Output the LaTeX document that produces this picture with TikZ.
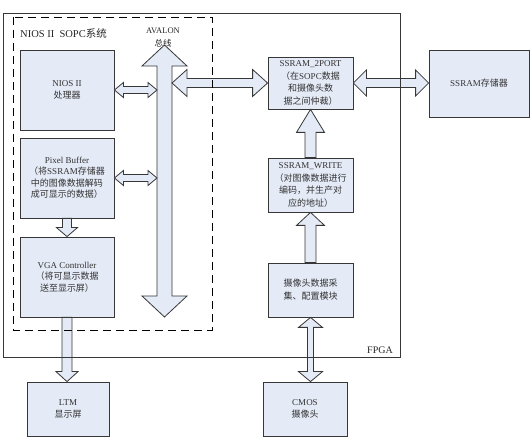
\documentclass[tikz,border=0pt]{standalone}
\usepackage{fontspec}
\setmainfont{Liberation Serif}
\newfontfamily\cjk{Noto Sans CJK SC}
\usepackage{tikz}
\usetikzlibrary{calc}
\usepackage{xcolor}

\definecolor{blockfill}{RGB}{228,234,246}
\definecolor{lineclr}{RGB}{55,55,55}

% block arrows: #1,#2 end points, #3 shaft half width, #4 head half width, #5 head length
\newcommand{\hboth}[5]{%
  \draw[barrow] let \p1=#1, \p2=#2 in
    (\x1,\y1) -- (\x1+#5,\y1+#4) -- (\x1+#5,\y1+#3) -- (\x2-#5,\y1+#3)
    -- (\x2-#5,\y1+#4) -- (\x2,\y1) -- (\x2-#5,\y1-#4) -- (\x2-#5,\y1-#3)
    -- (\x1+#5,\y1-#3) -- (\x1+#5,\y1-#4) -- cycle;}
\newcommand{\vboth}[5]{%
  \draw[barrow] let \p1=#1, \p2=#2 in
    (\x1,\y1) -- (\x1+#4,\y1-#5) -- (\x1+#3,\y1-#5) -- (\x1+#3,\y2+#5)
    -- (\x1+#4,\y2+#5) -- (\x1,\y2) -- (\x1-#4,\y2+#5) -- (\x1-#3,\y2+#5)
    -- (\x1-#3,\y1-#5) -- (\x1-#4,\y1-#5) -- cycle;}
\newcommand{\vup}[5]{% #1 tail, #2 tip (above)
  \draw[barrow] let \p1=#1, \p2=#2 in
    (\x2,\y2) -- (\x2+#4,\y2-#5) -- (\x2+#3,\y2-#5) -- (\x2+#3,\y1)
    -- (\x2-#3,\y1) -- (\x2-#3,\y2-#5) -- (\x2-#4,\y2-#5) -- cycle;}
\newcommand{\vdown}[5]{% #1 tail, #2 tip (below)
  \draw[barrow] let \p1=#1, \p2=#2 in
    (\x2,\y2) -- (\x2+#4,\y2+#5) -- (\x2+#3,\y2+#5) -- (\x2+#3,\y1)
    -- (\x2-#3,\y1) -- (\x2-#3,\y2+#5) -- (\x2-#4,\y2+#5) -- cycle;}

\begin{document}
\begin{tikzpicture}[x=1pt,y=-1pt,
    block/.style={draw=lineclr, line width=0.8pt, fill=blockfill, align=center,
      inner sep=1pt, text=black!80, font=\fontsize{9}{11.5}\selectfont},
    barrow/.style={draw=lineclr, line width=0.8pt, fill=blockfill, line join=miter},
    lbl/.style={inner sep=0pt, text=black!85}]
    \useasboundingbox (0,0) rectangle (531,443);

    % Blocks inside the SOPC system
    \node[block, minimum width=94pt, minimum height=80pt] (nios) at (67,90)
        {NIOS II\\{\cjk 处理器}};
    \node[block, minimum width=94pt, minimum height=80pt] (pixbuf) at (67,178)
        {Pixel Buffer\\{\cjk （将}SSRAM{\cjk 存储器}\\{\cjk 中的图像数据解码}\\{\cjk 成可显示的数据）}};
    \node[block, minimum width=94pt, minimum height=80pt] (vga) at (67,277)
        {VGA Controller\\{\cjk （将可显示数据}\\{\cjk 送至显示屏）}};

    % Blocks on the camera side
    \node[block, minimum width=85pt, minimum height=52pt, font=\fontsize{9}{12.5}\selectfont] (port2) at (310.5,83)
        {SSRAM\_2PORT\\{\cjk （在}SOPC{\cjk 数据}\\{\cjk 和摄像头数}\\{\cjk 据之间仲裁）}};
    \node[block, minimum width=100pt, minimum height=67pt] (sram) at (479,83.5)
        {SSRAM{\cjk 存储器}};
    \node[block, minimum width=85pt, minimum height=54pt, font=\fontsize{9}{12.5}\selectfont] (wr) at (310.5,185)
        {SSRAM\_WRITE\\{\cjk （对图像数据进行}\\{\cjk 编码，并生产对}\\{\cjk 应的地址）}};
    \node[block, minimum width=85pt, minimum height=54pt, font=\fontsize{9}{13}\selectfont] (cap) at (310.5,290)
        {\cjk 摄像头数据采\\\cjk 集、配置模块};

    % Outside devices
    \node[block, minimum width=82pt, minimum height=54pt] (ltm) at (68,409)
        {LTM\\{\cjk 显示屏}};
    \node[block, minimum width=84pt, minimum height=54pt] (cmos) at (305,409)
        {CMOS\\{\cjk 摄像头}};

    % Labels
    \node[lbl, anchor=west, font=\fontsize{10.5}{12}\selectfont] (soptitle) at (20,33) {NIOS II\ \ SOPC{\cjk 系统}};
    \node[lbl, font=\fontsize{8.5}{10}\selectfont] (avalon) at (163,31) {AVALON};
    \node[lbl, font=\fontsize{8.5}{10}\selectfont] (zongxian) at (163,43) {\cjk 总线};
    \node[lbl, anchor=east, font=\fontsize{10}{12}\selectfont] (fpgalbl) at (393,350) {FPGA};

    % AVALON bus
    \coordinate (bustop) at (164.5,45);
    \coordinate (busbot) at (164.5,317);
    \coordinate (busL) at (157,0);
    \coordinate (busR) at (172,0);
    \vboth{(bustop)}{(busbot)}{7.5pt}{22.5pt}{21pt}

    % Connections
    \hboth{(nios.east)}{(nios.east -| busL)}{3.5pt}{7.5pt}{9pt}
    \hboth{(pixbuf.east)}{(pixbuf.east -| busL)}{3.5pt}{7.5pt}{9pt}
    \vdown{(pixbuf.south)}{(vga.north)}{4.5pt}{10.5pt}{9pt}
    \vdown{(vga.south)}{(vga.south |- ltm.north)}{5pt}{11pt}{10pt}
    \hboth{(port2.west -| busR)}{(port2.west)}{4.5pt}{13.5pt}{15pt}
    \hboth{(port2.east)}{(port2.east -| sram.west)}{4.5pt}{13pt}{13pt}
    \vup{(wr.north)}{(port2.south)}{5.5pt}{14pt}{23pt}
    \vup{(cap.north)}{(wr.south)}{5.5pt}{14pt}{13pt}
    \vboth{(cap.south)}{(cap.south |- cmos.north)}{3pt}{12pt}{10pt}

    % FPGA and SOPC frames
    \draw[lineclr, line width=0.9pt] (3,13) rectangle (400,357);
    \draw[black, line width=0.9pt, dash pattern=on 8pt off 5pt] (13,17) rectangle (212,330);
\end{tikzpicture}
\end{document}
